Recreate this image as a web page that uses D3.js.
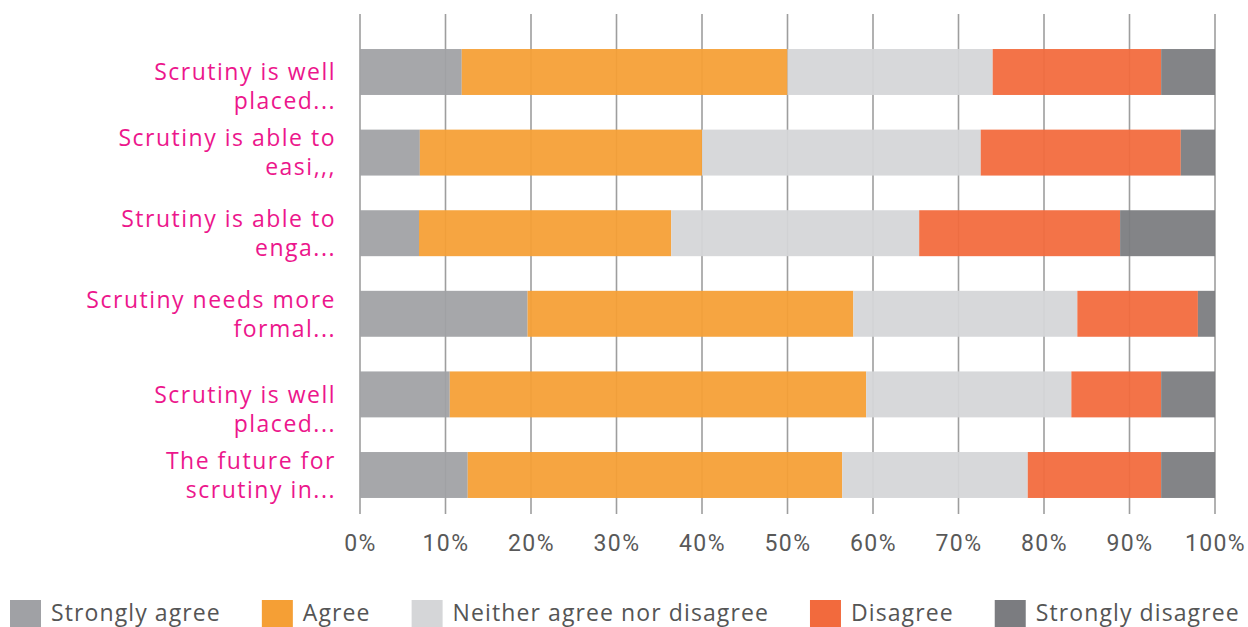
<!DOCTYPE html>
<html>
<head>
<meta charset="utf-8">
<script src="https://cdn.jsdelivr.net/npm/d3@7"></script>
<style>
  html, body { margin: 0; padding: 0; background: #fff; }
  svg { display: block; }
</style>
</head>
<body>
<svg id="chart" width="1248" height="627"></svg>
<script>
// ---- data ----
const categories = [
  "\nScrutiny is well\nplaced...",
  "Scrutiny is able to\neasi,,,",
  "Strutiny is able to\nenga...",
  "Scrutiny needs more\nformal...",
  "\nScrutiny is well\nplaced...",
  "The future for\nscrutiny in..."
];
const seriesNames = ["Strongly agree", "Agree", "Neither agree nor disagree", "Disagree", "Strongly disagree"];
const stronglyAgree    = [11.9, 7.0, 6.9, 19.6, 10.5, 12.6];
const agree            = [38.1, 33.0, 29.5, 38.1, 48.7, 43.8];
const neither          = [24.0, 32.6, 29.0, 26.2, 24.0, 21.7];
const disagree         = [19.7, 23.4, 23.5, 14.1, 10.5, 15.6];
const stronglyDisagree = [6.3, 4.0, 11.1, 2.0, 6.3, 6.3];
const tickValues = [0, 10, 20, 30, 40, 50, 60, 70, 80, 90, 100];
const tickLabels = ["0%", "10%", "20%", "30%", "40%", "50%", "60%", "70%", "80%", "90%", "100%"];

const colors = ["#A0A1A5", "#F59F35", "#D5D6D8", "#F26A3D", "#7B7C80"];

// ---- build table ----
const keys = seriesNames;
const seriesArrays = [stronglyAgree, agree, neither, disagree, stronglyDisagree];
const table = categories.map((c, i) => {
  const row = { cat: i };
  keys.forEach((k, j) => row[k] = seriesArrays[j][i]);
  return row;
});
const stacked = d3.stack().keys(keys)(table);

const svg = d3.select("#chart");

const x = d3.scaleLinear().domain([0, 100]).range([360, 1215]);
const y = d3.scaleBand().domain(d3.range(categories.length))
  .range([31.7, 515.3]).paddingInner(0.43).paddingOuter(0.215);
const color = d3.scaleOrdinal().domain(keys).range(colors);

// gridlines
const gridTop = 14, gridBottom = 514;
svg.append("g").selectAll("line").data(tickValues).join("line")
  .attr("x1", d => x(d)).attr("x2", d => x(d))
  .attr("y1", gridTop).attr("y2", gridBottom)
  .attr("stroke", "#9E9E9E").attr("stroke-width", 1.6);

// bars
svg.append("g").selectAll("g").data(stacked).join("g")
  .attr("fill", d => color(d.key))
  .selectAll("rect").data(d => d).join("rect")
  .attr("x", d => x(d[0]))
  .attr("width", d => x(d[1]) - x(d[0]))
  .attr("y", (d, i) => y(i))
  .attr("height", y.bandwidth())
  .attr("fill-opacity", 0.94);

// x axis labels
const xAxis = d3.axisBottom(x).tickValues(tickValues)
  .tickFormat((d, i) => tickLabels[i]).tickSize(0).tickPadding(0);
const gx = svg.append("g").attr("transform", `translate(0, 551)`).call(xAxis);
gx.select(".domain").remove();
gx.selectAll("text")
  .attr("font-family", "Roboto, 'Liberation Sans', sans-serif")
  .attr("font-size", 23).attr("letter-spacing", 1.4)
  .attr("fill", "#595959").attr("dy", "0");

// category labels
const lineH = 29;
const labG = svg.append("g");
categories.forEach((c, i) => {
  const lines = c.split("\n");
  const cy = y(i) + y.bandwidth() / 2;
  const startY = cy - (lines.length - 1) * lineH / 2;
  const t = labG.append("text")
    .attr("text-anchor", "end")
    .attr("font-family", "'Open Sans', sans-serif")
    .attr("font-size", 23)
    .attr("letter-spacing", 1.5)
    .attr("fill", "#EC168C");
  lines.forEach((ln, k) => {
    t.append("tspan").attr("x", 336).attr("y", startY + k * lineH)
      .attr("dy", "0.36em").text(ln);
  });
});

// legend
const legend = svg.append("g").attr("transform", "translate(10, 600)");
let lx = 0;
keys.forEach((k, i) => {
  const g = legend.append("g").attr("transform", `translate(${lx},0)`);
  g.append("rect").attr("width", 31).attr("height", 31).attr("fill", color(k));
  const t = g.append("text").attr("x", 41).attr("y", 13).attr("dy", "0.36em")
    .attr("font-family", "'Open Sans', sans-serif")
    .attr("font-size", 23).attr("letter-spacing", 1.1)
    .attr("fill", "#555").text(k);
  const w = t.node().getComputedTextLength();
  lx += 41 + w + 41;
});
</script>
</body>
</html>
